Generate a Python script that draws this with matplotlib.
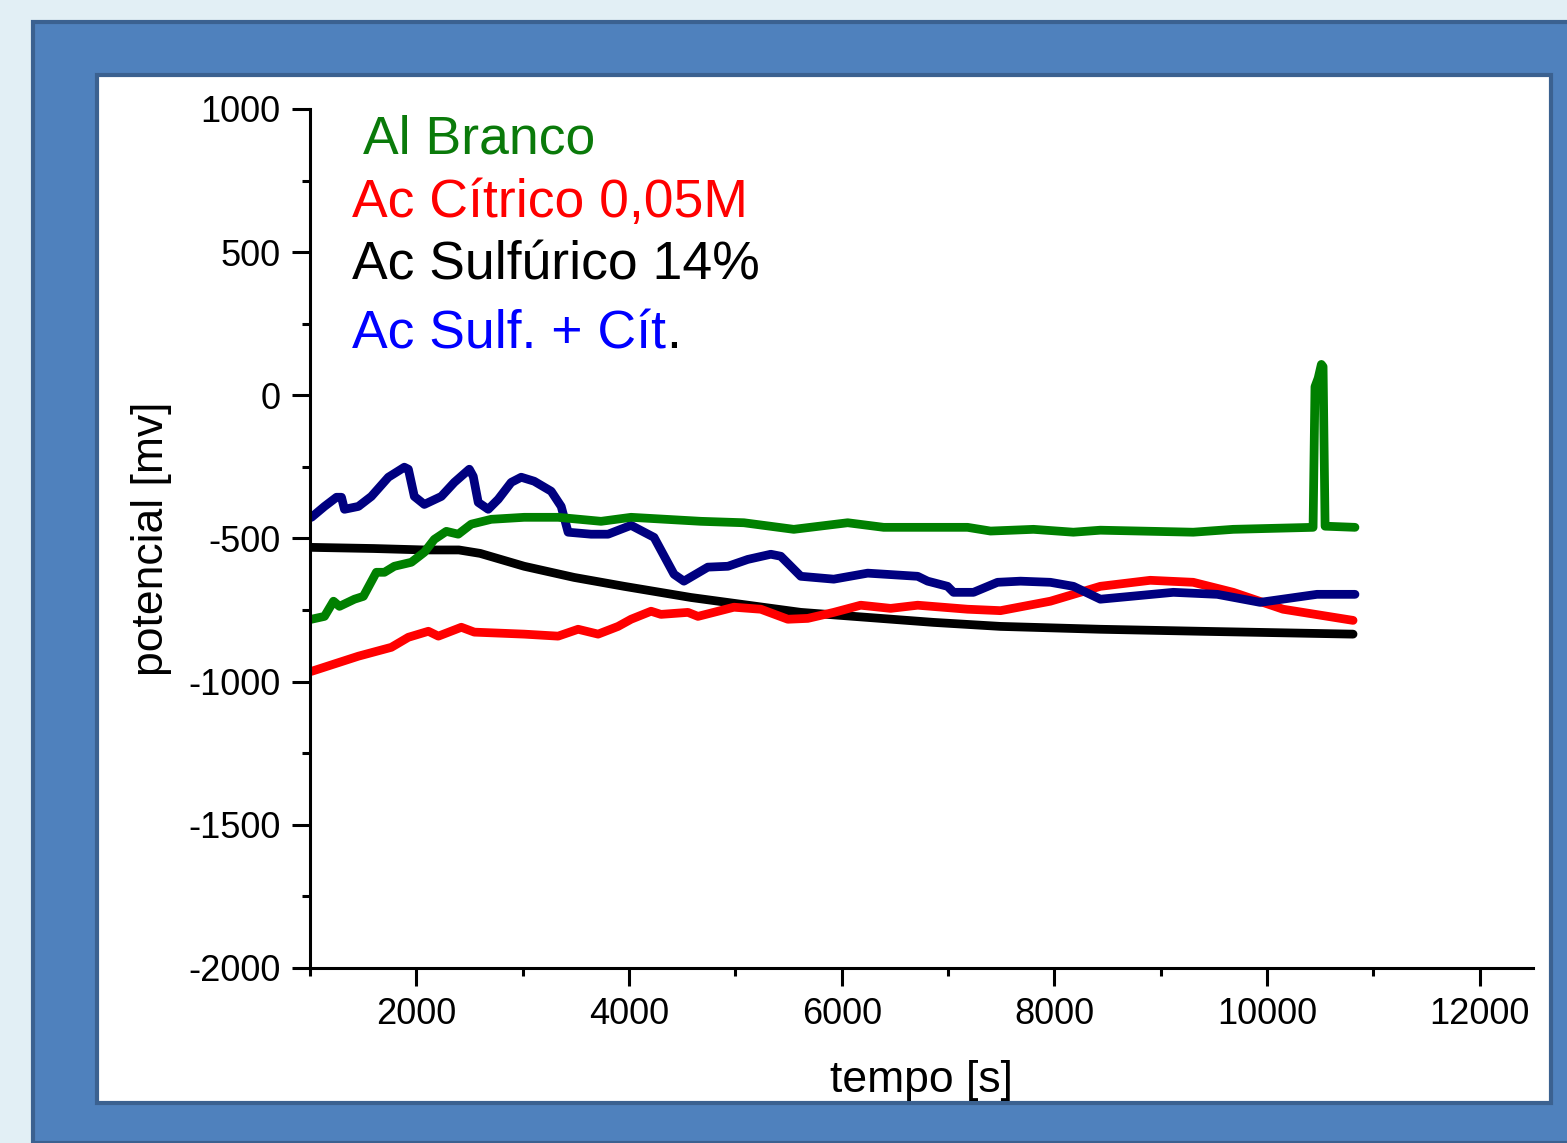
import matplotlib.pyplot as plt
import matplotlib.patches as mpatches
from matplotlib.ticker import MultipleLocator

plt.rcParams["font.family"] = ["Liberation Sans", "DejaVu Sans"]
plt.rcParams["axes.unicode_minus"] = False

# --- data (time in s, potential in mV) ---
t_branco = [1014, 1136, 1221, 1277, 1418, 1502, 1624, 1700, 1793, 1953, 2075,
            2169, 2282, 2394, 2516, 2704, 3014, 3333, 3737, 4019, 4676, 5080,
            5549, 6056, 6394, 7183, 7399, 7803, 8178, 8432, 9305, 9681, 10432,
            10450, 10480, 10510, 10526, 10545, 10826]
v_branco = [-782, -772, -719, -737, -712, -702, -618, -618, -597, -583, -548,
            -503, -475, -485, -450, -433, -426, -426, -440, -426, -440, -445,
            -468, -445, -461, -461, -474, -468, -478, -471, -478, -468, -461,
            30, 60, 108, 100, -457, -461]

t_citrico = [1014, 1455, 1765, 1925, 2113, 2207, 2423, 2545, 3014, 3333, 3521,
             3709, 3897, 4019, 4207, 4300, 4554, 4648, 4986, 5239, 5493, 5681,
             5925, 6178, 6460, 6714, 7183, 7493, 7962, 8432, 8901, 9305, 9681,
             10150, 10808]
v_citrico = [-964, -911, -880, -845, -824, -841, -810, -827, -834, -841, -817,
             -834, -807, -782, -754, -765, -758, -772, -740, -747, -782, -779,
             -758, -733, -744, -733, -747, -752, -719, -667, -646, -653, -688,
             -747, -786]

t_sulf = [1014, 1600, 2075, 2400, 2600, 3014, 3484, 3953, 4582, 5615, 6864,
          7493, 8432, 9371, 10808]
v_sulf = [-531, -535, -540, -540, -552, -597, -636, -667, -706, -758, -793,
          -807, -817, -824, -834]

t_mix = [1014, 1136, 1249, 1296, 1324, 1455, 1577, 1737, 1887, 1925, 1981,
         2075, 2235, 2357, 2498, 2535, 2582, 2676, 2770, 2892, 2986, 3108,
         3268, 3362, 3427, 3643, 3803, 4019, 4235, 4423, 4516, 4741, 4930,
         5117, 5333, 5427, 5615, 5925, 6244, 6714, 6808, 6995, 7051, 7239,
         7465, 7681, 7962, 8178, 8432, 9118, 9531, 9934, 10469, 10826]
v_mix = [-426, -388, -356, -356, -398, -388, -353, -286, -251, -258, -353,
         -381, -353, -304, -258, -283, -374, -398, -363, -304, -286, -300,
         -335, -388, -478, -485, -485, -454, -496, -625, -649, -600, -597,
         -573, -555, -562, -632, -642, -621, -632, -649, -667, -688, -688,
         -653, -649, -653, -667, -712, -688, -695, -723, -695, -695]

labels = ["Al Branco", "Ac Cítrico 0,05M", "Ac Sulfúrico 14%", "Ac Sulf. + Cít"]
text_colors = ["#0a7a0a", "#ff0000", "#000000", "#0000ff"]

W, H = 1567, 1143
fig = plt.figure(figsize=(W / 100, H / 100), dpi=100)
fig.patch.set_facecolor("#e2eff5")

# blue frame and white panel (behind the axes)
fig.patches.append(mpatches.Rectangle(
    (33 / W, 0), 1.0, 1 - 22 / H, transform=fig.transFigure,
    facecolor="#4f81bd", edgecolor="#3b6190", linewidth=3, zorder=-2))
fig.patches.append(mpatches.Rectangle(
    (97 / W, 1 - 1103 / H), (1551 - 97) / W, (1103 - 75) / H,
    transform=fig.transFigure, facecolor="white", edgecolor="#3b6190",
    linewidth=3, zorder=-1))

ax = fig.add_axes([310 / W, 1 - 968 / H, (1533 - 310) / W, (968 - 109) / H])
ax.set_facecolor("none")

lw = 6.3
style = dict(lw=lw, solid_joinstyle="round", solid_capstyle="round")
ax.plot(t_sulf, v_sulf, color="black", **style)
ax.plot(t_citrico, v_citrico, color="#ff0000", **style)
ax.plot(t_mix, v_mix, color="#000080", **style)
ax.plot(t_branco, v_branco, color="#008000", **style)

ax.set_xlim(1000, 12500)
ax.set_ylim(-2000, 1000)
ax.xaxis.set_major_locator(MultipleLocator(2000))
ax.xaxis.set_minor_locator(MultipleLocator(1000))
ax.yaxis.set_major_locator(MultipleLocator(500))
ax.yaxis.set_minor_locator(MultipleLocator(250))

for side in ("top", "right"):
    ax.spines[side].set_visible(False)
for side in ("left", "bottom"):
    ax.spines[side].set_linewidth(2.2)

ax.tick_params(which="major", length=13, width=2.2, labelsize=26, pad=8)
ax.tick_params(which="minor", length=6, width=2.2)
ax.set_xlabel("tempo [s]", fontsize=32, labelpad=20)
ax.set_ylabel("potencial [mv]", fontsize=32, labelpad=12)

# coloured labels in place of a legend
fs = 38.5
ax.text(363 / W, 1 - 153 / H, labels[0], transform=fig.transFigure,
        color=text_colors[0], fontsize=fs, va="baseline")
ax.text(352 / W, 1 - 217 / H, labels[1], transform=fig.transFigure,
        color=text_colors[1], fontsize=fs, va="baseline")
ax.text(352 / W, 1 - 280 / H, labels[2], transform=fig.transFigure,
        color=text_colors[2], fontsize=fs, va="baseline")
t = ax.text(352 / W, 1 - 348 / H, labels[3], transform=fig.transFigure,
            color=text_colors[3], fontsize=fs, va="baseline")
fig.canvas.draw()
bb = t.get_window_extent()
ax.text(bb.x1 / W, 1 - 348 / H, ".", transform=fig.transFigure,
        color="black", fontsize=fs, va="baseline")

fig.savefig("out.png", dpi=100, facecolor=fig.get_facecolor())
